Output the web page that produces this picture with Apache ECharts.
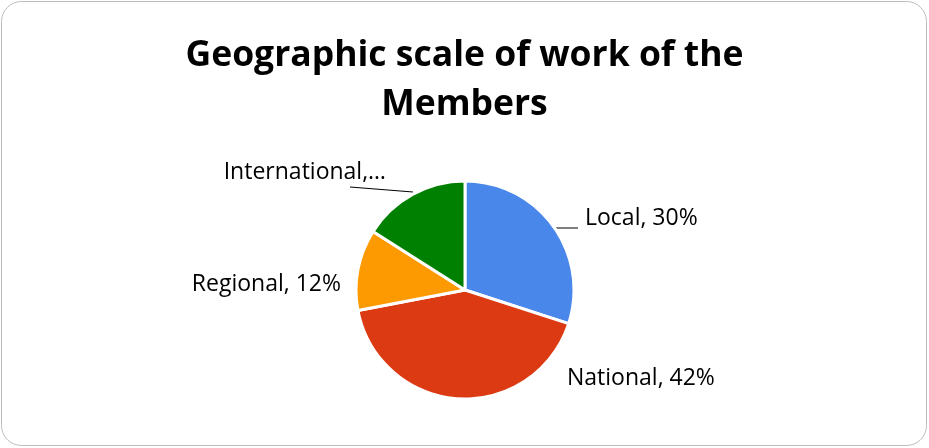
<!DOCTYPE html>
<html>
<head>
<meta charset="utf-8">
<script src="https://cdn.jsdelivr.net/npm/echarts@6/dist/echarts.min.js"></script>
<style>
html,body{margin:0;padding:0;background:#fff;}
#chart{width:929px;height:448px;}
</style>
</head>
<body>
<div id="chart"></div>
<script>
const titleText = 'Geographic scale of work of the\nMembers';
const categories = ['Local', 'National', 'Regional', 'International'];
const values = [30, 42, 12, 16];
const labelTexts = ['Local, 30%', 'National, 42%', 'Regional, 12%', 'International,…'];
const colors = ['#4a87ea', '#dc3a13', '#fd9a01', '#008000'];

const chart = echarts.init(document.getElementById('chart'));

// label placement (Excel-like best fit)
const labelPlace = [
  {x: 585, y: 218, align: 'left', line: [[552, 228], [578, 228]]},
  {x: 567, y: 378, align: 'left', line: null},
  {x: 341, y: 284, align: 'right', line: null},
  {x: 386, y: 172, align: 'right', line: [[413, 192], [350, 187]]}
];

chart.setOption({
  animation: false,
  graphic: [{
    type: 'rect',
    shape: {x: 1.5, y: 1.5, width: 925, height: 444, r: 20},
    style: {fill: '#fff', stroke: '#bcbcbc', lineWidth: 1},
    z: -10
  }],
  title: {
    text: titleText,
    left: 'center',
    top: 26,
    textStyle: {
      fontFamily: 'Open Sans',
      fontWeight: 'bold',
      fontSize: 35.5,
      lineHeight: 49,
      color: '#000'
    }
  },
  series: [{
    type: 'pie',
    center: [465, 290],
    radius: 109,
    startAngle: 90,
    clockwise: true,
    data: categories.map((c, i) => ({name: c, value: values[i], itemStyle: {color: colors[i]}})),
    itemStyle: {borderColor: '#fff', borderWidth: 3},
    label: {
      show: true,
      formatter: p => labelTexts[p.dataIndex],
      fontFamily: 'Open Sans',
      fontSize: 23,
      color: '#000'
    },
    labelLine: {show: true, length: 10, length2: 20, lineStyle: {color: '#000', width: 1}},
    labelLayout: function (params) {
      const lp = labelPlace[params.dataIndex];
      const r = {x: lp.x, y: lp.y, align: lp.align, verticalAlign: 'middle'};
      if (lp.line) r.labelLinePoints = [lp.line[0], lp.line[0], lp.line[1]];
      else r.labelLinePoints = [[0,0],[0,0],[0,0]];
      return r;
    },
    emphasis: {disabled: true}
  }]
});
</script>
</body>
</html>
